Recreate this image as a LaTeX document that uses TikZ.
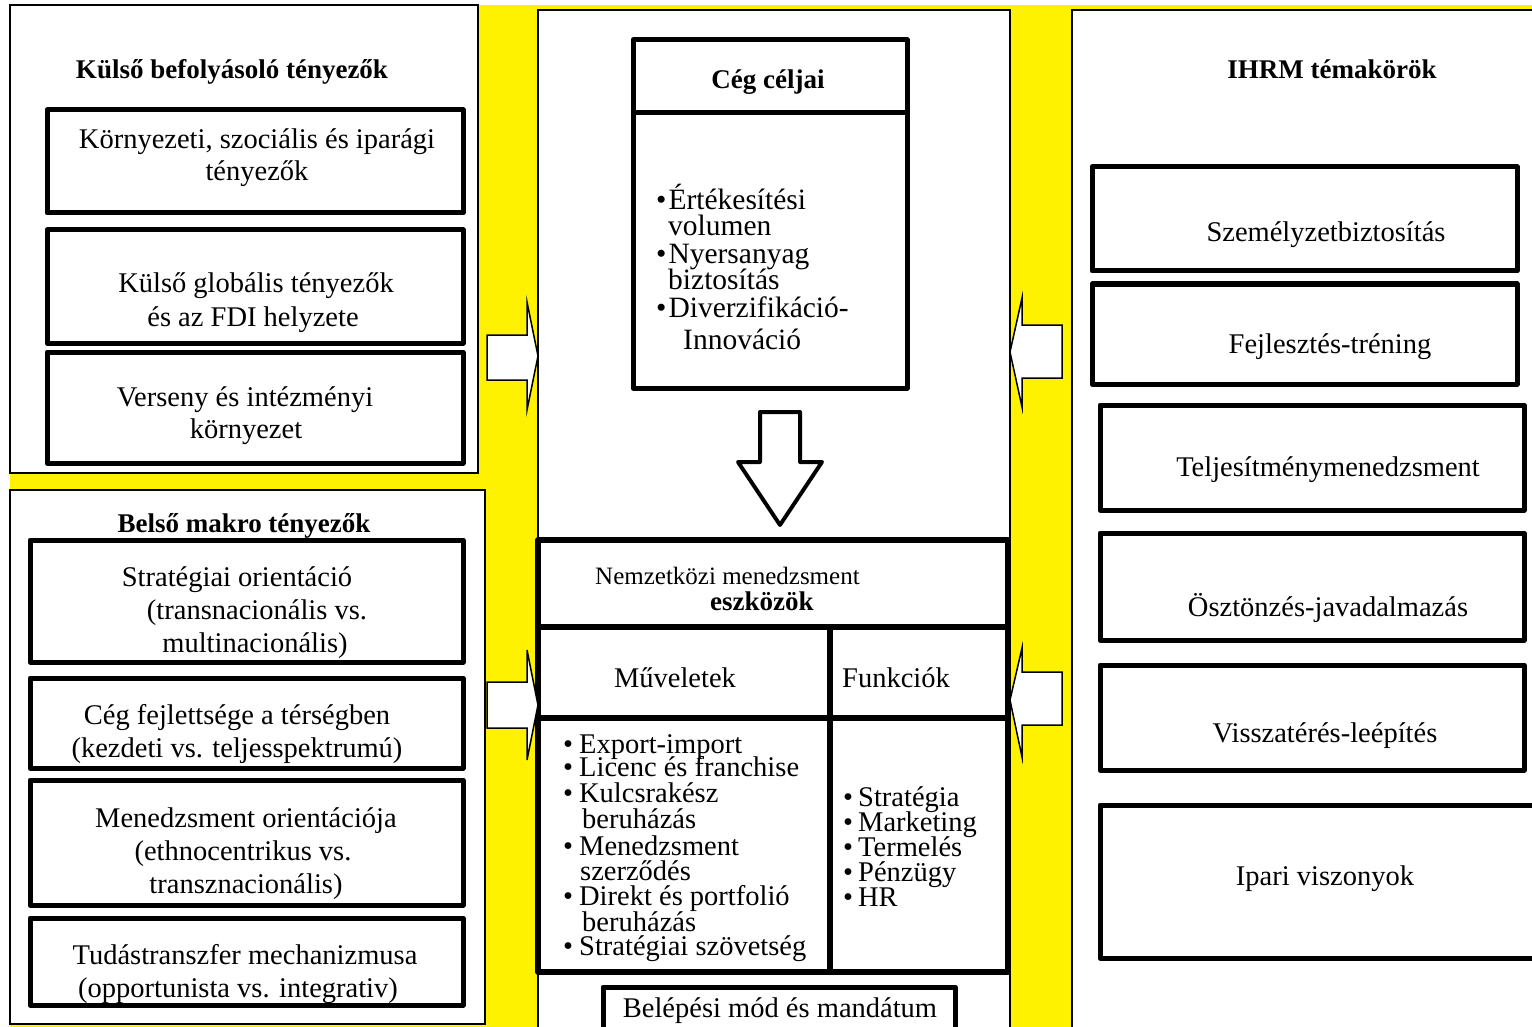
\documentclass[tikz,border=0pt]{standalone}
\usepackage{fontspec}
\setmainfont{Liberation Serif}
\usetikzlibrary{fit}
\begin{document}
\begin{tikzpicture}[x=1pt,y=-1pt,
  tbox/.style={draw, line width=5pt, inner sep=0pt, outer sep=0pt, fill=white, line join=round},
  panel/.style={draw, line width=1.5pt, fill=white, inner sep=0pt, outer sep=0pt},
  tx/.style={anchor=base, inner sep=0pt, font=\fontsize{28.5}{32}\selectfont},
  tl/.style={anchor=base west, inner sep=0pt, font=\fontsize{28.5}{32}\selectfont},
  tc/.style={anchor=base west, inner sep=0pt, font=\fontsize{29.5}{32}\selectfont},
  hd/.style={anchor=base, inner sep=0pt, font=\bfseries\fontsize{27}{30}\selectfont},
  barrow/.style={draw, line width=1.5pt, fill=white, line join=miter},
  divl/.style={line width=6pt},
]
\useasboundingbox (0,0) rectangle (1532,1027);
\fill[white] (0,0) rectangle (1532,1027);
\fill[yellow] (10,5) rectangle (1540,1040);

% ---------- left top panel ----------
\node[panel, fit={(10,5) (478,473)}] (P1) {};
\node[hd] (h1) at (232,79) {Külső befolyásoló tényezők};
\node[tbox, fit={(47,110) (463,213)}] (k1) {};
\node[tbox, fit={(47,230) (463,343)}] (k2) {};
\node[tbox, fit={(47,352) (463,463)}] (k3) {};
\node[tx] (k1a) at (257,149) {Környezeti, szociális és iparági};
\node[tx] (k1b) at (257,181) {tényezők};
\node[tx] (k2a) at (256,293) {Külső globális tényezők};
\node[tx] (k2b) at (253,326) {és az FDI helyzete};
\node[tx] (k3a) at (245,406) {Verseny és intézményi};
\node[tx] (k3b) at (246,438) {környezet};

% ---------- left bottom panel ----------
\node[panel, fit={(10,490) (485,1024)}] (P2) {};
\node[hd] (h2) at (244,532) {Belső makro tényezők};
\node[tbox, fit={(30,540) (463,662)}] (b1) {};
\node[tbox, fit={(30,678) (463,768)}] (b2) {};
\node[tbox, fit={(30,780) (463,905)}] (b3) {};
\node[tbox, fit={(30,918) (463,1005)}] (b4) {};
\node[tx] (b1a) at (237,586) {Stratégiai orientáció};
\node[tx] (b1b) at (257,619) {(transnacionális vs.};
\node[tx] (b1c) at (255,652) {multinacionális)};
\node[tx] (b2a) at (237,724) {Cég fejlettsége a térségben};
\node[tx] (b2b) at (237,757) {(kezdeti vs. teljesspektrumú)};
\node[tx] (b3a) at (246,827) {Menedzsment orientációja};
\node[tx] (b3b) at (243,860) {(ethnocentrikus vs.};
\node[tx] (b3c) at (246,893) {transznacionális)};
\node[tx] (b4a) at (245,964) {Tudástranszfer mechanizmusa};
\node[tx] (b4b) at (238,997) {(opportunista vs. integrativ)};

% ---------- center panel ----------
\node[panel, fit={(538,10) (1010,1040)}] (P3) {};
\node[tbox, fit={(633,40) (907,388)}] (cg) {};
\draw[line width=5pt] (633,113) -- (907,113);
\node[hd] (h3) at (768,89) {Cég céljai};
\node[tc] (c1) at (656,210) {\textbullet\hspace{2pt}Értékesítési};
\node[tc] (c2) at (668,236) {volumen};
\node[tc] (c3) at (656,264) {\textbullet\hspace{2pt}Nyersanyag};
\node[tc] (c4) at (668,289) {biztosítás};
\node[tc] (c5) at (656,317) {\textbullet\hspace{2pt}Diverzifikáció-};
\node[tc] (c6) at (683,349) {Innováció};

\draw[barrow, line width=4pt, line join=round] (760,412) -- (800,412) -- (800,462) -- (822,462) -- (780,525) -- (738,462) -- (760,462) -- cycle;

\node[tbox, line width=6pt, fit={(538,540) (1008,972)}] (nm) {};
\draw[divl] (538,627) -- (1008,627);
\draw[divl] (538,718) -- (1008,718);
\draw[divl] (830,627) -- (830,972);
\node[anchor=base west, inner sep=0pt, font=\fontsize{25}{28}\selectfont] (n1) at (595,584) {Nemzetközi menedzsment};
\node[anchor=base west, inner sep=0pt, font=\bfseries\fontsize{27}{30}\selectfont] (n2) at (710,610) {eszközök};
\node[tx] (mv) at (675,687) {Műveletek};
\node[tl] (fk) at (842,687) {Funkciók};

\node[tl] (m1) at (563,753) {\textbullet\hspace{6pt}Export-import};
\node[tl] (m2) at (563,776) {\textbullet\hspace{6pt}Licenc és franchise};
\node[tl] (m3) at (563,802) {\textbullet\hspace{6pt}Kulcsrakész};
\node[tl] (m4) at (582,828) {beruházás};
\node[tl] (m5) at (563,855) {\textbullet\hspace{6pt}Menedzsment};
\node[tl] (m6) at (580,880) {szerződés};
\node[tl] (m7) at (563,905) {\textbullet\hspace{6pt}Direkt és portfolió};
\node[tl] (m8) at (582,931) {beruházás};
\node[tl] (m9) at (563,955) {\textbullet\hspace{6pt}Stratégiai szövetség};

\node[tl] (f1) at (843,806) {\textbullet\hspace{5pt}Stratégia};
\node[tl] (f2) at (843,831) {\textbullet\hspace{5pt}Marketing};
\node[tl] (f3) at (843,856) {\textbullet\hspace{5pt}Termelés};
\node[tl] (f4) at (843,881) {\textbullet\hspace{5pt}Pénzügy};
\node[tl] (f5) at (843,906) {\textbullet\hspace{5pt}HR};

\node[tbox, fit={(603,987) (955,1045)}] (bl) {};
\node[tx] (blt) at (780,1017) {Belépési mód és mandátum};

% ---------- right panel ----------
\node[panel, fit={(1072,10) (1545,1045)}] (P4) {};
\node[hd] (h4) at (1332,79) {IHRM témakörök};
\node[tbox, fit={(1092,167) (1517,271)}] (r1) {};
\node[tbox, fit={(1092,284) (1517,384)}] (r2) {};
\node[tbox, fit={(1100,405) (1524,510)}] (r3) {};
\node[tbox, fit={(1100,533) (1524,640)}] (r4) {};
\node[tbox, fit={(1100,665) (1524,770)}] (r5) {};
\node[tbox, fit={(1100,805) (1550,958)}] (r6) {};
\node[tx] (r1t) at (1326,242) {Személyzetbiztosítás};
\node[tx] (r2t) at (1330,353) {Fejlesztés-tréning};
\node[tx] (r3t) at (1328,476) {Teljesítménymenedzsment};
\node[tx] (r4t) at (1328,616) {Ösztönzés-javadalmazás};
\node[tx] (r5t) at (1325,742) {Visszatérés-leépítés};
\node[tx] (r6t) at (1325,885) {Ipari viszonyok};

% ---------- block arrows ----------
\draw[barrow] (487,335) -- (527,335) -- (527,302) -- (538,356) -- (527,410) -- (527,380) -- (487,380) -- cycle;
\draw[barrow] (487,682) -- (527,682) -- (527,650) -- (538,705) -- (527,760) -- (527,728) -- (487,728) -- cycle;
\draw[barrow] (1062,325) -- (1022,325) -- (1022,298) -- (1010,352) -- (1022,407) -- (1022,378) -- (1062,378) -- cycle;
\draw[barrow] (1062,672) -- (1022,672) -- (1022,648) -- (1010,700) -- (1022,757) -- (1022,725) -- (1062,725) -- cycle;
\end{tikzpicture}
\end{document}
